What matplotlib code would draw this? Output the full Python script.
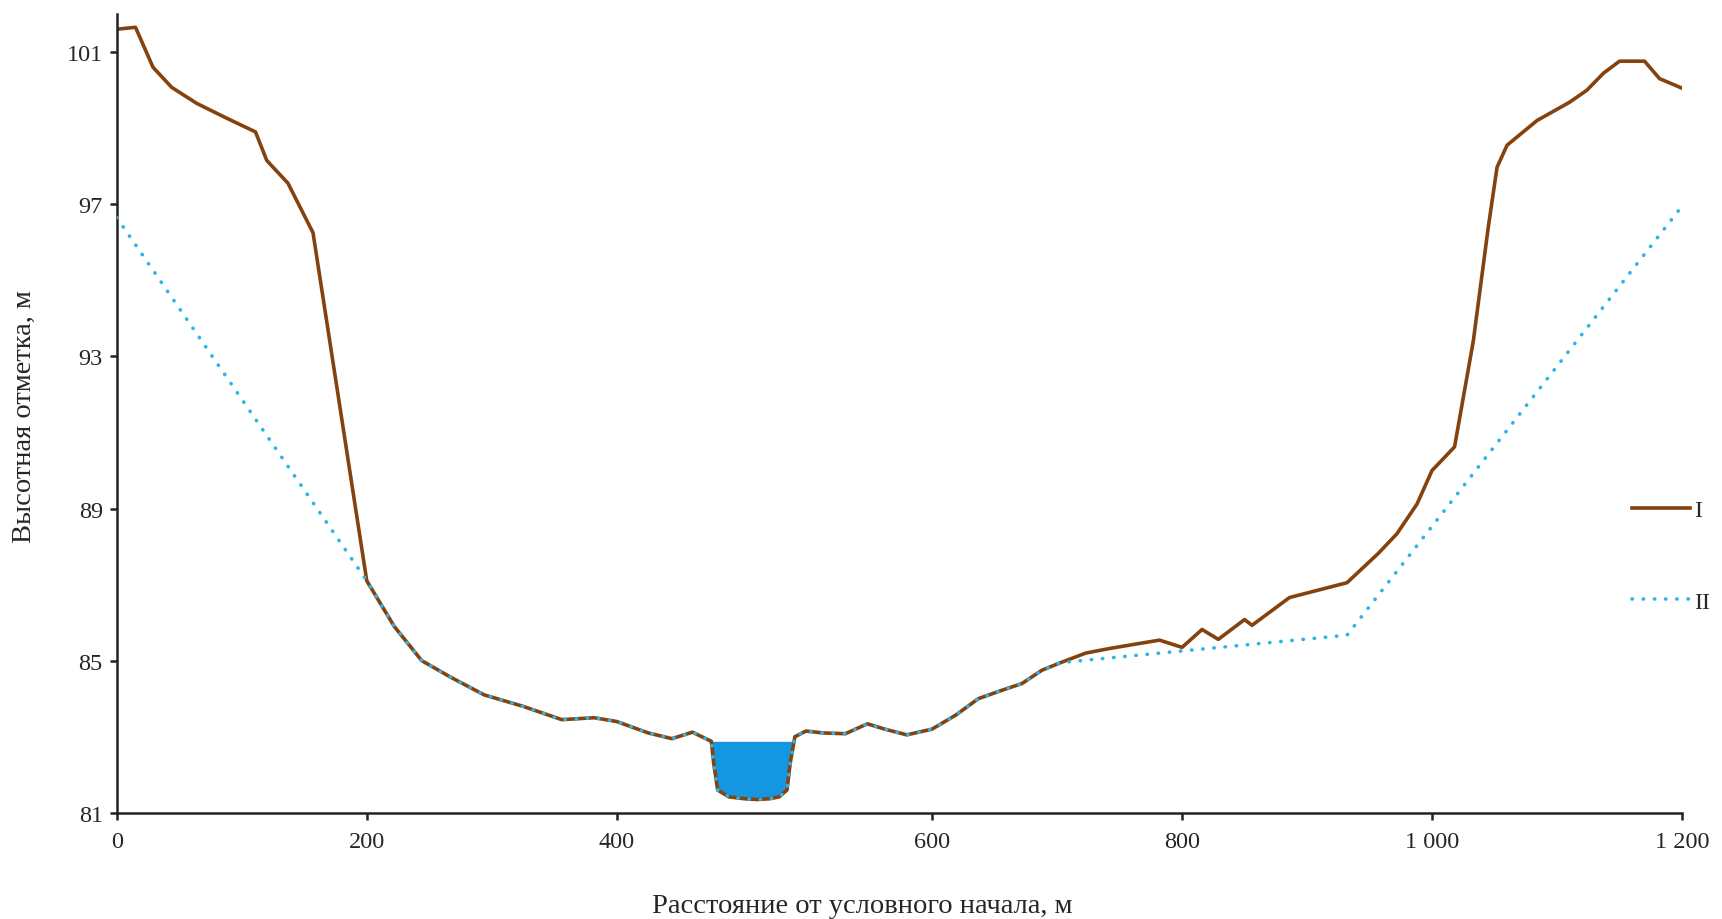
import numpy as np
import matplotlib.pyplot as plt

# ---------------------- DATA ----------------------
# ground profile (I), distance in m and elevation in m
dist_I = [0, 15, 29, 44, 64, 88, 111, 120, 137, 157, 200, 222, 244, 268, 294,
          325, 356, 382, 400, 420, 435, 448, 460, 461.5, 464, 471, 481, 489,
          497, 503, 508, 510, 513, 520, 531, 545, 559, 570, 584, 600, 619, 637,
          654, 672, 688, 703, 723, 742, 760, 782, 800, 816, 829, 850, 856, 886,
          932, 957, 972, 988, 1000, 1018, 1033, 1045, 1052, 1060, 1084, 1110,
          1124, 1137, 1150, 1170, 1182, 1200]
elev_I = [101.6, 101.65, 100.6, 100.07, 99.65, 99.26, 98.9, 98.15, 97.55, 96.25,
          87.1, 85.9, 85.0, 84.55, 84.1, 83.8, 83.45, 83.5, 83.4, 83.1, 82.95,
          83.12, 82.88, 82.3, 81.6, 81.42, 81.37, 81.35, 81.37, 81.42, 81.6,
          82.3, 83.0, 83.15, 83.1, 83.08, 83.34, 83.2, 83.05, 83.2, 83.57, 84.0,
          84.2, 84.4, 84.75, 84.95, 85.2, 85.32, 85.42, 85.54, 85.35, 85.82,
          85.56, 86.08, 85.93, 86.66, 87.05, 87.82, 88.34, 89.12, 90.0, 90.62,
          93.4, 96.4, 97.97, 98.55, 99.2, 99.68, 100.0, 100.44, 100.76, 100.76,
          100.3, 100.05]

# line II: own points on the slopes, follows I between 200 and 703 m
dist_II_left = [0, 200]
elev_II_left = [96.65, 87.1]
dist_II_right = [703, 932, 1200]
elev_II_right = [84.95, 85.67, 96.95]

water_level = 82.88
channel = (455, 515)

xticks = [0, 200, 400, 600, 800, 1000, 1200]
xtick_labels = ["0", "200", "400", "600", "800", "1\u00a0000", "1\u00a0200"]
yticks = [81, 85, 89, 93, 97, 101]

# build line II
dist_I = np.array(dist_I, dtype=float)
elev_I = np.array(elev_I)
mid = (dist_I > dist_II_left[-1]) & (dist_I < dist_II_right[0])
dist_II = np.concatenate([dist_II_left, dist_I[mid], dist_II_right])
elev_II = np.concatenate([elev_II_left, elev_I[mid], elev_II_right])

# x axis in the source is stretched between 400 and 600 m
brk_in = [-1e5, 0, 400, 600, 1200, 1e5]
brk_out = [-1e5, 0, 400, 652.2, 1252.2, 1e5 + 52.2]


def fwd(x):
    return np.interp(x, brk_in, brk_out)


def inv(x):
    return np.interp(x, brk_out, brk_in)


# ---------------------- PLOT ----------------------
plt.rcParams['font.family'] = ['Liberation Serif', 'DejaVu Serif']
txt_color = '#262626'

fig = plt.figure(figsize=(17.22, 9.2), dpi=100)
ax = fig.add_axes([0.0678, 0.1154, 0.9090, 0.8683])
ax.set_xscale('function', functions=(fwd, inv))

in_channel = (dist_I >= channel[0]) & (dist_I <= channel[1])
ax.fill_between(dist_I, elev_I, water_level,
                where=in_channel & (elev_I <= water_level),
                interpolate=True, color='#1497e0', lw=0, zorder=1)

ax.plot(dist_I, elev_I, color='#84420f', lw=2.6, label='I', zorder=2)
ax.plot(dist_II, elev_II, color='#2db4e6', lw=2.6,
        linestyle=(0, (0.1, 3.0)), dash_capstyle='round', label='II', zorder=3)

ax.set_xlim(0, 1200)
ax.set_ylim(81, 102)
ax.set_xticks(xticks)
ax.set_xticklabels(xtick_labels)
ax.set_yticks(yticks)

for side in ['top', 'right']:
    ax.spines[side].set_visible(False)
for side in ['left', 'bottom']:
    ax.spines[side].set_linewidth(1.8)
    ax.spines[side].set_color('#222222')

ax.tick_params(axis='both', direction='out', length=5, width=1.8,
               color='#222222', labelsize=17.5, labelcolor=txt_color)
ax.tick_params(axis='y', pad=5)
ax.tick_params(axis='x', pad=8)

ax.set_xlabel("Расстояние от условного начала, м", fontsize=20.5,
              color=txt_color, va='center')
ax.set_ylabel("Высотная отметка, м", fontsize=20.5, color=txt_color,
              va='center')
ax.xaxis.set_label_coords(0.476, -0.1154)
ax.yaxis.set_label_coords(-0.0592, 0.4967)

leg = fig.legend(loc='center left', bbox_to_anchor=(0.9477, 0.3946),
                 frameon=False, fontsize=17.5, handlelength=2.4,
                 handletextpad=0.15, labelspacing=2.85, borderpad=0,
                 borderaxespad=0)
for t in leg.get_texts():
    t.set_color(txt_color)

# ---------------------- SAVE ----------------------
plt.savefig("out.png", dpi=100)
plt.close()
